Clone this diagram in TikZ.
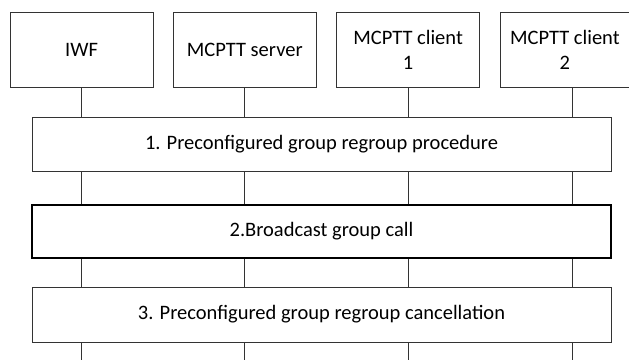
\documentclass[tikz,border=0pt]{standalone}
\usepackage{fontspec}
\setmainfont{Carlito}
\usetikzlibrary{positioning}
\tikzset{
  entity/.style={draw=black!80, line width=0.8pt, fill=white, minimum width=143pt, minimum height=75pt, align=center, inner sep=2pt},
  stepbox/.style={draw=black!80, line width=0.8pt, fill=white, minimum width=579pt, inner sep=0pt},
  lifeline/.style={draw=black!80, line width=0.8pt},
}
\begin{document}
\begin{tikzpicture}[x=1pt, y=-1pt, node distance=19.5pt, font=\fontsize{20.5}{25}\selectfont]
\useasboundingbox (0,0) rectangle (629,360);
% entities
\node[entity] (iwf) at (81.5,49.5) {IWF};
\node[entity, right=of iwf] (server) {MCPTT server};
\node[entity, right=of server] (client1) {MCPTT client\\1};
\node[entity, minimum width=130pt, right=of client1] (client2) {MCPTT client\\2};
% lifelines
\coordinate (bottom) at (0,360);
\draw[lifeline] (iwf.south) -- (iwf.south |- bottom);
\draw[lifeline] (server.south) -- (server.south |- bottom);
\draw[lifeline] (client1.south) -- (client1.south |- bottom);
\draw[lifeline] ([xshift=7.5pt]client2.south) -- ([xshift=7.5pt]client2.south |- bottom);
% steps
\node[stepbox, minimum height=54pt] (regroup) at (321.5,144) {1. Preconfigured group regroup procedure};
\node[stepbox, minimum height=53pt, draw=black, line width=1.6pt] (call) at (321.5,231.5) {2.Broadcast group call};
\node[stepbox, minimum height=55pt] (cancel) at (321.5,314.5) {3. Preconfigured group regroup cancellation};
\end{tikzpicture}
\end{document}
